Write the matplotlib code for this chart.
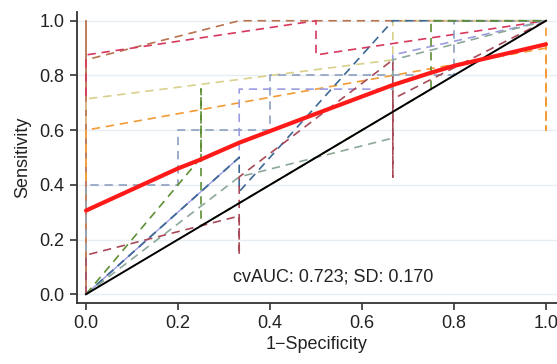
import matplotlib
matplotlib.use("Agg")
import matplotlib.pyplot as plt

plt.rcParams['font.family'] = ['Liberation Sans', 'DejaVu Sans']

# ---- data ----
brown_x = [0, 0, 0.333, 1]
brown_y = [0, 0.857, 1.0, 1.0]

crimson_x = [0, 0, 0.5, 0.5, 1]
crimson_y = [0, 0.875, 1.0, 0.875, 1.0]

khaki_x = [0, 0, 0.667, 0.667, 1]
khaki_y = [0, 0.714, 0.857, 1.0, 1.0]

orange_x = [0, 0, 1, 1, 1]
orange_y = [0, 0.6, 0.9, 0.6, 1.0]

slate_x = [0, 0, 0.2, 0.2, 0.4, 0.4, 0.8, 0.8, 1]
slate_y = [0, 0.4, 0.4, 0.6, 0.6, 0.8, 0.8, 1.0, 1.0]

lavender_x = [0, 0.333, 0.333, 0.667, 0.667, 1]
lavender_y = [0, 0.5, 0.75, 0.75, 0.875, 1.0]

navy_x = [0, 0.333, 0.333, 0.667, 1]
navy_y = [0, 0.5, 0.375, 1.0, 1.0]

olive_x = [0, 0.25, 0.25, 0.25, 0.75, 0.75, 1]
olive_y = [0, 0.5, 0.75, 0.25, 0.75, 1.0, 1.0]

sage_x = [0, 0.333, 0.667, 0.667, 1]
sage_y = [0, 0.429, 0.571, 0.857, 1.0]

rust_x = [0, 0, 0.333, 0.333, 0.333, 0.667, 0.667, 0.667, 1]
rust_y = [0, 0.143, 0.286, 0.143, 0.429, 0.857, 0.429, 0.714, 1.0]

mean_x = [0, 0.2, 0.25, 0.333, 0.5, 0.667, 0.75, 0.8, 1.0]
mean_y = [0.306, 0.46, 0.493, 0.554, 0.66, 0.765, 0.81, 0.835, 0.914]

diag_x = [0, 1]
diag_y = [0, 1]

xticks = [0.0, 0.2, 0.4, 0.6, 0.8, 1.0]
yticks = [0.0, 0.2, 0.4, 0.6, 0.8, 1.0]
annotation = "cvAUC: 0.723; SD: 0.170"

folds = [
    (brown_x, brown_y, '#b8734f'),
    (crimson_x, crimson_y, '#d8385e'),
    (khaki_x, khaki_y, '#d9d08c'),
    (orange_x, orange_y, '#f29b35'),
    (slate_x, slate_y, '#8e9fbf'),
    (lavender_x, lavender_y, '#9c9ce2'),
    (navy_x, navy_y, '#3d6994'),
    (olive_x, olive_y, '#5f8f34'),
    (sage_x, sage_y, '#8ca898'),
    (rust_x, rust_y, '#a94a58'),
]

fig = plt.figure(figsize=(5.57, 3.64), dpi=100)
ax = fig.add_axes([77 / 557, 61.3 / 364, (557 - 77) / 557, (302.7 - 12) / 364])

for yv in yticks:
    ax.axhline(yv, color='#e6eef3', lw=1.0, zorder=0)

ax.plot([0, 0], [0, 1], color='#b8734f', lw=1.3, zorder=2)
# first lavender segment appears continuous in the reference
ax.plot(lavender_x[:2], lavender_y[:2], color='#9c9ce2', lw=1.0, zorder=2)
for fx, fy, col in folds:
    ax.plot(fx, fy, color=col, lw=1.2, ls=(0, (5, 3.5)), zorder=2)

ax.plot(diag_x, diag_y, color='black', lw=1.4, zorder=3)
ax.plot(mean_x, mean_y, color='#ff1a1a', lw=3.0, zorder=4,
        solid_capstyle='round', solid_joinstyle='round')

ax.text(0.537, 0.063, annotation, ha='center', va='center', fontsize=13, color='#222222')

ax.set_xlim(-0.0196, 1.0239)
ax.set_ylim(-0.031, 1.032)
ax.set_xticks(xticks)
ax.set_yticks(yticks)
ax.set_xticklabels([f"{v:.1f}" for v in xticks])
ax.set_yticklabels([f"{v:.1f}" for v in yticks])
ax.tick_params(axis='both', labelsize=13, length=5, width=1.2, color='#333333',
               labelcolor='#222222', pad=4)
for s in ['top', 'right']:
    ax.spines[s].set_visible(False)
for s in ['left', 'bottom']:
    ax.spines[s].set_color('#333333')
    ax.spines[s].set_linewidth(1.3)

ax.set_xlabel("1\u2212Specificity", fontsize=13, color='#222222', labelpad=3)
ax.set_ylabel("Sensitivity", fontsize=13, color='#222222', labelpad=6)

fig.savefig("out.png", dpi=100)
